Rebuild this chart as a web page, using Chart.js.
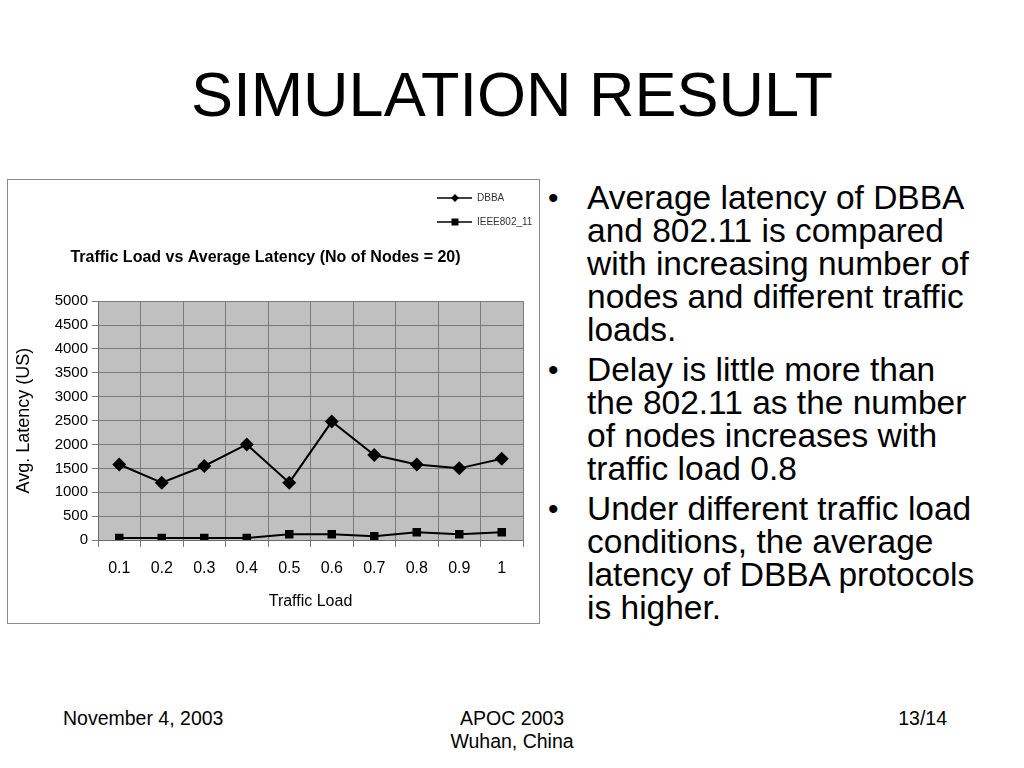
<!DOCTYPE html>
<html>
<head>
<meta charset="utf-8">
<script src="https://cdn.jsdelivr.net/npm/chart.js@4.4.0/dist/chart.umd.min.js"></script>
<style>
  body { margin:0; width:1024px; height:768px; background:#fff; font-family:"Liberation Sans", Arial, sans-serif; position:relative; overflow:hidden; }
  #title { position:absolute; left:0; width:1024px; top:58px; text-align:center; font-size:63px; line-height:72px; color:#000; }
  #frame { position:absolute; left:7px; top:179px; width:531px; height:443px; border:1px solid #8a8a8a; background:#fff; }
  #bullets { position:absolute; left:548px; top:181px; margin:0; padding:0; list-style:none; font-size:33.5px; line-height:33px; color:#000; white-space:nowrap; }
  #bullets li { position:relative; padding-left:39px; margin-bottom:7px; }
  #bullets li:before { content:"\2022"; position:absolute; left:0; top:0; font-size:30px; }
  .foot { position:absolute; top:707px; font-size:19.5px; line-height:23px; color:#000; }
</style>
</head>
<body>
<div id="title">SIMULATION RESULT</div>
<div id="frame"><canvas id="myChart" width="531" height="443"></canvas></div>
<ul id="bullets">
  <li>Average latency of DBBA<br>and 802.11 is compared<br>with increasing number of<br>nodes and different traffic<br>loads.</li>
  <li>Delay is little more than<br>the 802.11 as the number<br>of nodes increases with<br>traffic load 0.8</li>
  <li>Under different traffic load<br>conditions, the average<br>latency of DBBA protocols<br>is higher.</li>
</ul>
<div class="foot" style="left:63px;">November 4, 2003</div>
<div class="foot" style="left:412px;width:200px;text-align:center;">APOC 2003<br>Wuhan, China</div>
<div class="foot" style="right:77px;">13/14</div>
<script>
var loads=["0.1","0.2","0.3","0.4","0.5","0.6","0.7","0.8","0.9","1"];
var dbba=[1580,1200,1550,2000,1200,2480,1780,1580,1500,1700];
var ieee=[40,40,40,40,120,120,80,160,120,160];
var yticks=[0,500,1000,1500,2000,2500,3000,3500,4000,4500,5000];

// grey plot background
var plotBg={
  id:'plotBg',
  beforeDraw:function(chart){
    var a=chart.chartArea, c=chart.ctx;
    c.save(); c.fillStyle='#c0c0c0'; c.fillRect(a.left,a.top,a.right-a.left,a.bottom-a.top); c.restore();
  }
};

// legend drawn top right, one item per row
var sideLegend={
  id:'sideLegend',
  afterDraw:function(chart){
    var c=chart.ctx;
    chart.data.datasets.forEach(function(ds,i){
      var y=18+i*24;
      c.save();
      c.strokeStyle='#000'; c.lineWidth=1.5;
      c.beginPath(); c.moveTo(429,y); c.lineTo(464,y); c.stroke();
      c.fillStyle='#000';
      if(ds.pointStyle=='rectRot'){
        c.beginPath(); c.moveTo(447,y-4); c.lineTo(451,y); c.lineTo(447,y+4); c.lineTo(443,y); c.closePath(); c.fill();
      } else {
        c.fillRect(443.5,y-3.5,7,7);
      }
      c.fillStyle='#333'; c.font='10px "Liberation Sans", Arial'; c.textBaseline='middle';
      c.fillText(ds.label,469,y);
      c.restore();
    });
  }
};

var ctx=document.getElementById("myChart").getContext('2d');
var chart=new Chart(ctx,{
  type:'line',
  data:{
    labels:loads,
    datasets:[{
      label:'DBBA',
      data:dbba,
      borderColor:'#000', backgroundColor:'#000', borderWidth:2,
      pointStyle:'rectRot', pointRadius:7, pointBorderWidth:0,
      tension:0
    },{
      label:'IEEE802_11',
      data:ieee,
      borderColor:'#000', backgroundColor:'#000', borderWidth:2,
      pointStyle:'rect', pointRadius:6, pointBorderWidth:0,
      tension:0
    }]
  },
  options:{
    responsive:false,
    animation:false,
    layout:{padding:{left:0,right:16,top:0,bottom:0}},
    plugins:{
      legend:{display:false},
      tooltip:{enabled:false},
      title:{
        display:true,
        text:'Traffic Load vs Average Latency (No of Nodes = 20)',
        color:'#000',
        font:{family:'"Liberation Sans", Arial',size:16,weight:'bold'},
        padding:{top:68,bottom:34}
      }
    },
    scales:{
      x:{
        offset:true,
        grid:{offset:true,color:'#7a7a7a',lineWidth:1,tickLength:7,tickColor:'#7a7a7a'},
        border:{color:'#6a6a6a'},
        ticks:{color:'#000',padding:12,font:{family:'"Liberation Sans", Arial',size:16}},
        title:{display:true,text:'Traffic Load',color:'#000',font:{family:'"Liberation Sans", Arial',size:16},padding:{top:4,bottom:12}},
        afterFit:function(s){ s.height=83; }
      },
      y:{
        min:0,max:5000,
        afterBuildTicks:function(s){ s.ticks=yticks.map(function(v){return {value:v};}); },
        grid:{color:'#7a7a7a',lineWidth:1,tickLength:6,tickColor:'#7a7a7a'},
        border:{color:'#6a6a6a'},
        ticks:{color:'#000',padding:4,font:{family:'"Liberation Sans", Arial',size:15},callback:function(v){return String(v);}},
        title:{display:true,text:'Avg. Latency (US)',color:'#000',font:{family:'"Liberation Sans", Arial',size:18},padding:{top:5,bottom:0}},
        afterFit:function(s){ s.width=90; }
      }
    }
  },
  plugins:[plotBg,sideLegend]
});
</script>
</body>
</html>
